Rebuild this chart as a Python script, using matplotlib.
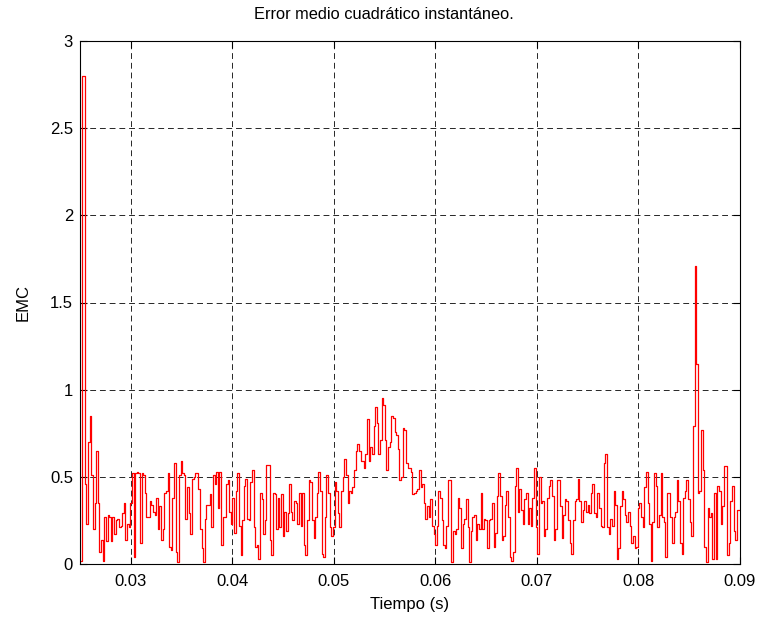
import matplotlib
matplotlib.use("Agg")
import matplotlib.pyplot as plt
import numpy as np

plt.rcParams['font.family'] = ['Liberation Sans', 'DejaVu Sans']

# instantaneous MSE (step signal, segment by segment)
emc_a = [0.02, 2.8, 2.8, 0.46, 0.23, 0.70, 0.85, 0.51, 0.20, 0.35, 0.65, 0.35,
         0.07, 0.14, 0.02, 0.27, 0.13, 0.28, 0.27, 0.13, 0.27, 0.17, 0.25, 0.26,
         0.21, 0.22, 0.29, 0.35, 0.14, 0.23, 0.21, 0.35, 0.52, 0.04, 0.52]
emc_b = [0.53, 0.52, 0.12, 0.52, 0.51, 0.41, 0.27, 0.27, 0.36, 0.34, 0.30, 0.28,
         0.38, 0.20, 0.33, 0.14, 0.20, 0.41, 0.42, 0.52, 0.10, 0.08, 0.38, 0.58,
         0.07, 0.01, 0.51, 0.59, 0.52, 0.51, 0.26, 0.44, 0.29, 0.17, 0.49, 0.50,
         0.52, 0.52, 0.43, 0.20, 0.09, 0.01, 0.26, 0.34, 0.34, 0.40, 0.21, 0.51,
         0.46, 0.53, 0.32, 0.53, 0.11, 0.27, 0.27, 0.46, 0.48]
emc_c = [0.30, 0.23, 0.38, 0.18, 0.42, 0.52, 0.22, 0.05, 0.25, 0.45, 0.49, 0.26,
         0.25, 0.47, 0.54, 0.21, 0.10, 0.11, 0.03, 0.41, 0.37, 0.17, 0.25, 0.57,
         0.57, 0.14, 0.05, 0.41, 0.40, 0.20, 0.38, 0.21, 0.40, 0.16, 0.30, 0.19,
         0.29, 0.46, 0.30, 0.25, 0.36, 0.35, 0.23, 0.41, 0.22, 0.41, 0.11, 0.05,
         0.25, 0.48, 0.47, 0.25, 0.15, 0.27, 0.41, 0.53, 0.42, 0.06, 0.04, 0.27,
         0.51, 0.41]
emc_d = [0.21, 0.16, 0.21, 0.47, 0.42, 0.29, 0.21, 0.42, 0.50, 0.60, 0.51, 0.35,
         0.42, 0.41, 0.44, 0.54, 0.65, 0.69, 0.65, 0.59, 0.59, 0.55, 0.63, 0.83,
         0.59, 0.67, 0.63, 0.79, 0.90, 0.81, 0.63, 0.71, 0.95, 0.91, 0.71, 0.54,
         0.67, 0.70, 0.85, 0.84, 0.76, 0.74, 0.66, 0.48, 0.50, 0.78, 0.77, 0.58,
         0.55, 0.55, 0.53, 0.40, 0.41, 0.42, 0.43, 0.54, 0.44, 0.46, 0.35, 0.26,
         0.33, 0.27, 0.37, 0.22, 0.17]
emc_e = [0.11, 0.22, 0.42, 0.38, 0.25, 0.11, 0.09, 0.22, 0.48, 0.48, 0.01, 0.19,
         0.17, 0.20, 0.38, 0.32, 0.09, 0.23, 0.26, 0.37, 0.21, 0.01, 0.19, 0.27,
         0.28, 0.14, 0.23, 0.20, 0.41, 0.20, 0.26, 0.25, 0.09, 0.25, 0.26, 0.35,
         0.10, 0.18, 0.39, 0.52, 0.39, 0.14, 0.16, 0.34, 0.42, 0.27, 0.04, 0.02,
         0.07, 0.45, 0.55, 0.30, 0.43, 0.31, 0.23, 0.37, 0.41, 0.23, 0.32, 0.22,
         0.38, 0.55, 0.21]
emc_f = [0.06, 0.50, 0.35, 0.36, 0.16, 0.20, 0.38, 0.45, 0.48, 0.39, 0.14, 0.20,
         0.48, 0.48, 0.33, 0.15, 0.28, 0.37, 0.36, 0.25, 0.12, 0.06, 0.25, 0.36,
         0.37, 0.49, 0.36, 0.24, 0.31, 0.36, 0.30, 0.34, 0.29, 0.41, 0.46, 0.29,
         0.27, 0.41, 0.32, 0.22, 0.21, 0.58, 0.63, 0.21, 0.17, 0.26, 0.22, 0.42,
         0.34, 0.03, 0.09, 0.33, 0.42, 0.37, 0.28, 0.24, 0.30, 0.22, 0.12, 0.16,
         0.09]
emc_g = [0.10, 0.32, 0.35, 0.27, 0.21, 0.44, 0.53, 0.35, 0.23, 0.02, 0.24, 0.52,
         0.45, 0.21, 0.28, 0.52, 0.27, 0.24, 0.04, 0.41, 0.41, 0.27, 0.12, 0.27,
         0.30, 0.48, 0.36, 0.12, 0.06, 0.38, 0.42, 0.48, 0.37, 0.24, 0.16, 0.79,
         1.71, 1.15, 0.41, 0.42, 0.77, 0.54, 0.10, 0.01, 0.32, 0.27, 0.29, 0.03,
         0.41, 0.03, 0.45, 0.42, 0.23, 0.33, 0.56, 0.56, 0.05, 0.12, 0.36, 0.45,
         0.19, 0.14, 0.31, 0.31]

t_start, t_end = 0.025, 0.09
xticks = [0.03, 0.04, 0.05, 0.06, 0.07, 0.08, 0.09]
yticks = [0, 0.5, 1, 1.5, 2, 2.5, 3]

emc = np.array(emc_a + emc_b + emc_c + emc_d + emc_e + emc_f + emc_g)
t = np.linspace(t_start, t_end, len(emc) + 1)

fig = plt.figure(figsize=(7.65, 6.17), dpi=100)
ax = fig.add_axes([80 / 765, 53 / 617, 660 / 765, 523 / 617])
ax.step(t, np.append(emc, emc[-1]), where='post', color='red', lw=0.9)

ax.set_xlim(t_start, t_end)
ax.set_ylim(0, 3)
ax.set_xticks(xticks)
ax.set_xticklabels(['%g' % v for v in xticks])
ax.set_yticks(yticks)
ax.set_yticklabels(['%g' % v for v in yticks])
ax.tick_params(direction='in', top=True, right=True, labelsize=12, length=5)
ax.tick_params(axis='x', pad=7)
ax.tick_params(axis='y', pad=5)
ax.grid(True, color='0.15', linestyle=(0, (6, 4)), lw=0.7)
for s in ax.spines.values():
    s.set_linewidth(0.8)

ax.set_title('Error medio cuadrático instantáneo.', fontsize=11.8, pad=16,
             x=0.46)
ax.set_xlabel('Tiempo (s)', fontsize=12, labelpad=6)
ax.set_ylabel('EMC', fontsize=12, labelpad=14)

fig.savefig('out.png', dpi=100)
